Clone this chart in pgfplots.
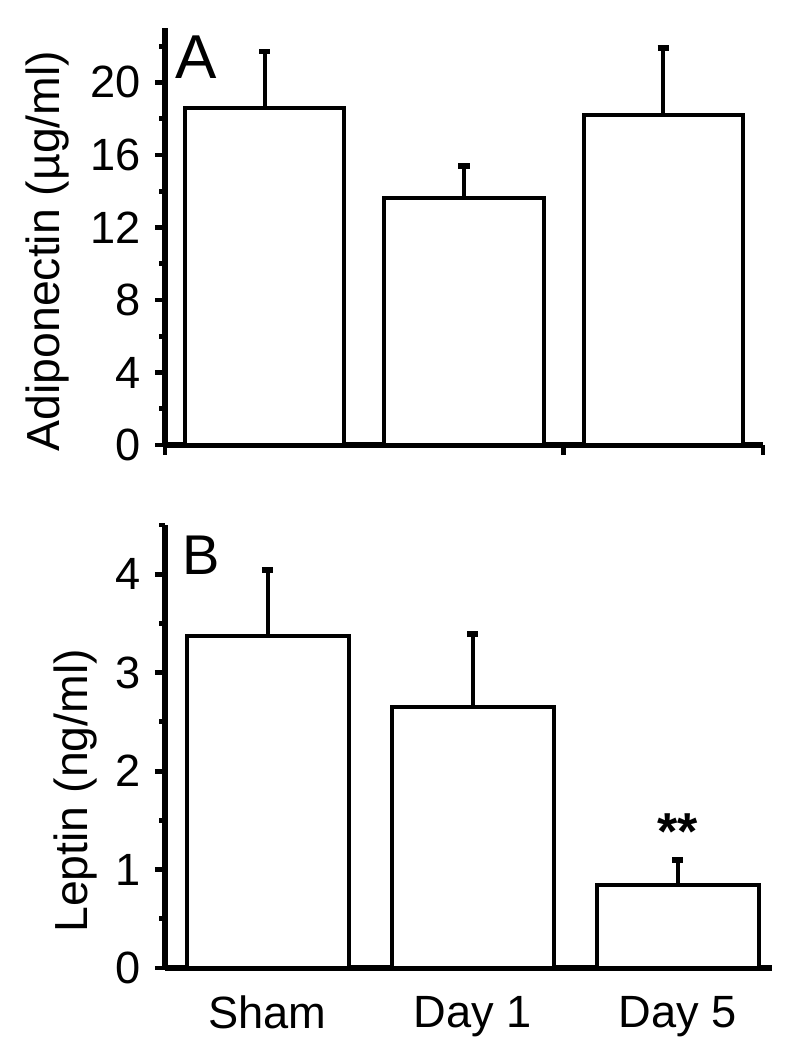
\documentclass[border=0pt]{standalone}
\usepackage{fontspec}
\setmainfont{Liberation Sans}
\usepackage{pgfplots}
\pgfplotsset{compat=1.18}

\pgfplotsset{
  panel/.style={
    scale only axis,
    axis x line*=bottom, axis y line*=left,
    axis line style={line width=1.35pt, black},
    tick align=outside,
    major tick length=2.5pt, minor tick length=1.4pt,
    tick style={line width=1.2pt, black},
    enlargelimits=false, clip=false,
    ymin=0,
    ybar, bar width=0.8,
    tick label style={font=\fontsize{11.3}{13.5}\selectfont},
    label style={font=\fontsize{11.6}{14}\selectfont},
    /pgf/number format/assume math mode=true,
  },
  barplot/.style={draw=black, fill=white, line width=1pt,
    error bars/y dir=plus, error bars/y explicit,
    error bars/error bar style={line width=1pt, black},
    error bars/error mark options={rotate=90, mark size=1.4pt, line width=1.4pt, black}},
}
\tikzset{letter/.style={anchor=north west, inner sep=0pt}}

\begin{document}
\begin{tikzpicture}
\path[use as bounding box] (0,0) rectangle (197pt,262.5pt);

% A: adiponectin
\begin{axis}[panel,
  at={(41.25pt,151.25pt)}, anchor=south west,
  width=149.5pt, height=104.25pt,
  xmin=-0.5, xmax=2.5, ymax=23,
  ytick={0,4,...,20}, minor ytick={2,6,...,22},
  xtick={-0.5,1.5,2.5}, xticklabels={},
  ylabel={Adiponectin (µg/ml)},
  ylabel style={at={(axis description cs:-0.197,0.465)}, anchor=center},
]
\addplot[barplot] coordinates {(0,18.6) +- (0,3.1) (1,13.6) +- (0,1.8) (2,18.2) +- (0,3.7)};
\node[letter, font=\fontsize{15.5}{17}\selectfont] at (axis description cs:0.017,0.983) {A};
\end{axis}

% B: leptin
\begin{axis}[panel,
  at={(41.25pt,20.5pt)}, anchor=south west,
  width=151.75pt, height=110.75pt,
  xmin=-0.5, xmax=2.46, ymax=4.5, bar width=0.79,
  ytick={0,...,4}, minor ytick={0.5,1.5,...,4.5},
  xtick={0,1,2}, xticklabels={Sham,Day 1,Day 5},
  xtick style={draw=none},
  xticklabel style={yshift=-1pt},
  ylabel={Leptin (ng/ml)},
  ylabel style={at={(axis description cs:-0.148,0.40)}, anchor=center},
]
\addplot[barplot] coordinates {(0,3.37) +- (0,0.67) (1,2.65) +- (0,0.74) (2,0.84) +- (0,0.26)};
\node[letter, font=\fontsize{14}{16}\selectfont] at (axis description cs:0.028,0.977) {B};
\node[anchor=north, inner sep=0pt, font=\fontsize{13}{15}\selectfont\bfseries] at (axis cs:2,1.58) {**};
\end{axis}
\end{tikzpicture}
\end{document}
